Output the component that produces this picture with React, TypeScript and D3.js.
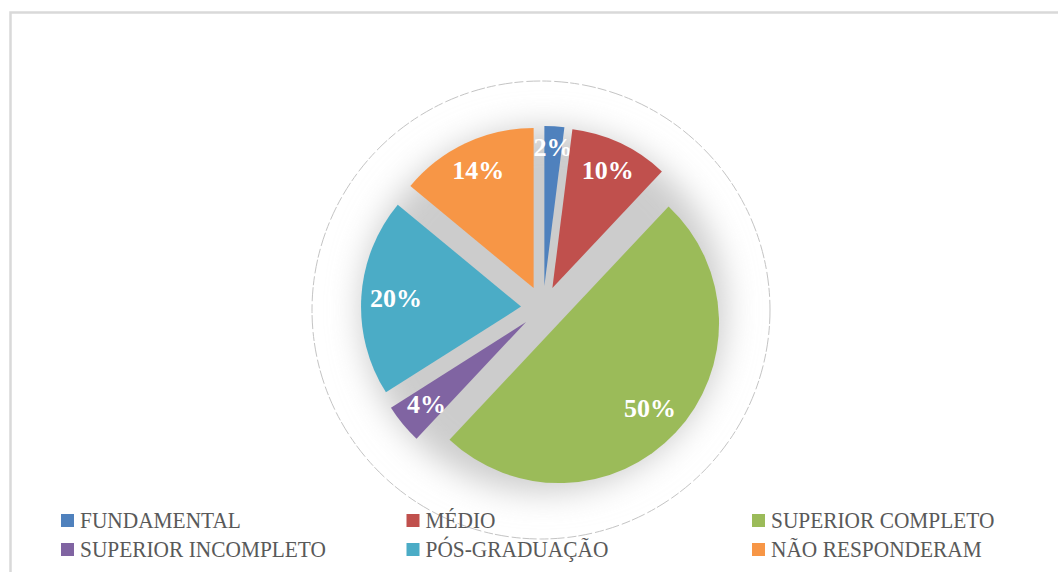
import React from "react";
import * as d3 from "d3";

const categories = ["FUNDAMENTAL", "MÉDIO", "SUPERIOR COMPLETO", "SUPERIOR INCOMPLETO", "PÓS-GRADUAÇÃO", "NÃO RESPONDERAM"];
const values = [2, 10, 50, 4, 20, 14];
const colors = ["#4F81BD", "#C0504D", "#9BBB59", "#8064A2", "#4BACC6", "#F79646"];
const labels = ["2%", "10%", "50%", "4%", "20%", "14%"];

const W = 1058;
const H = 572;
const CX = 543;
const CY = 308;
const R = 160;
const EXPLODE = 22;
const LABEL_FS = 26;

export default function App() {
  const pie = d3.pie<number>().sort(null).value((d) => d).startAngle(0).endAngle(2 * Math.PI);
  const arcs = pie(values);
  const arcGen = d3.arc<d3.PieArcDatum<number>>().innerRadius(0).outerRadius(R);

  const legendCols = d3.scalePoint<number>().domain([0, 1, 2]).range([61, 752]);
  const legendRows = d3.scalePoint<number>().domain([0, 1]).range([514, 543]);

  return (
    <svg width={W} height={H} style={{ position: "absolute", left: 0, top: 0, display: "block" }}>
      <defs>
        <filter id="blur" x="-50%" y="-50%" width="200%" height="200%">
          <feGaussianBlur stdDeviation="16" />
        </filter>
        <clipPath id="halo">
          <circle cx={CX - 2} cy={CY + 2} r={229} />
        </clipPath>
      </defs>
      <rect x={10.5} y={12.5} width={1070} height={580} fill="#fff" stroke="#d9d9d9" strokeWidth={2.5} />
      <g clipPath="url(#halo)">
        <circle cx={CX} cy={CY + 2} r={R + 22} fill="#cccccc" filter="url(#blur)" />
      </g>
      <circle cx={CX - 2} cy={CY + 2} r={229} fill="none" stroke="#c4c4c4" strokeWidth={1} strokeDasharray="14 2 9 3" />
      {arcs.map((a, i) => {
        const mid = (a.startAngle + a.endAngle) / 2;
        const ux = Math.sin(mid);
        const uy = -Math.cos(mid);
        const ox = CX + EXPLODE * ux;
        const oy = CY + EXPLODE * uy;
        const txt = labels[i];
        const hw = ((txt.length - 1) * 0.5 + 1.0) * LABEL_FS / 2;
        const hh = 12;
        const ext = hw * Math.abs(ux) + hh * Math.abs(uy);
        const dist = R - ext - 8;
        const lx = ox + dist * ux;
        const ly = oy + dist * uy;
        return (
          <g key={categories[i]}>
            <path d={arcGen(a) || ""} transform={`translate(${ox},${oy})`} fill={colors[i]} />
            <text
              x={lx}
              y={ly + LABEL_FS * 0.662 / 2}
              textAnchor="middle"
              fill="#fff"
              fontFamily="'Liberation Serif', serif"
              fontWeight="bold"
              fontSize={LABEL_FS}
            >
              {txt}
            </text>
          </g>
        );
      })}
      {categories.map((c, i) => {
        const col = i % 3;
        const row = Math.floor(i / 3);
        const x = legendCols(col)!;
        const y = legendRows(row)!;
        return (
          <g key={"lg" + c}>
            <rect x={x} y={y} width={13} height={13} fill={colors[i]} />
            <text
              transform={`translate(${x + 19},${y + 14}) scale(0.93,1)`}
              fill="#595959"
              fontFamily="'Liberation Serif', serif"
              fontSize={23}
            >
              {c}
            </text>
          </g>
        );
      })}
    </svg>
  );
}
